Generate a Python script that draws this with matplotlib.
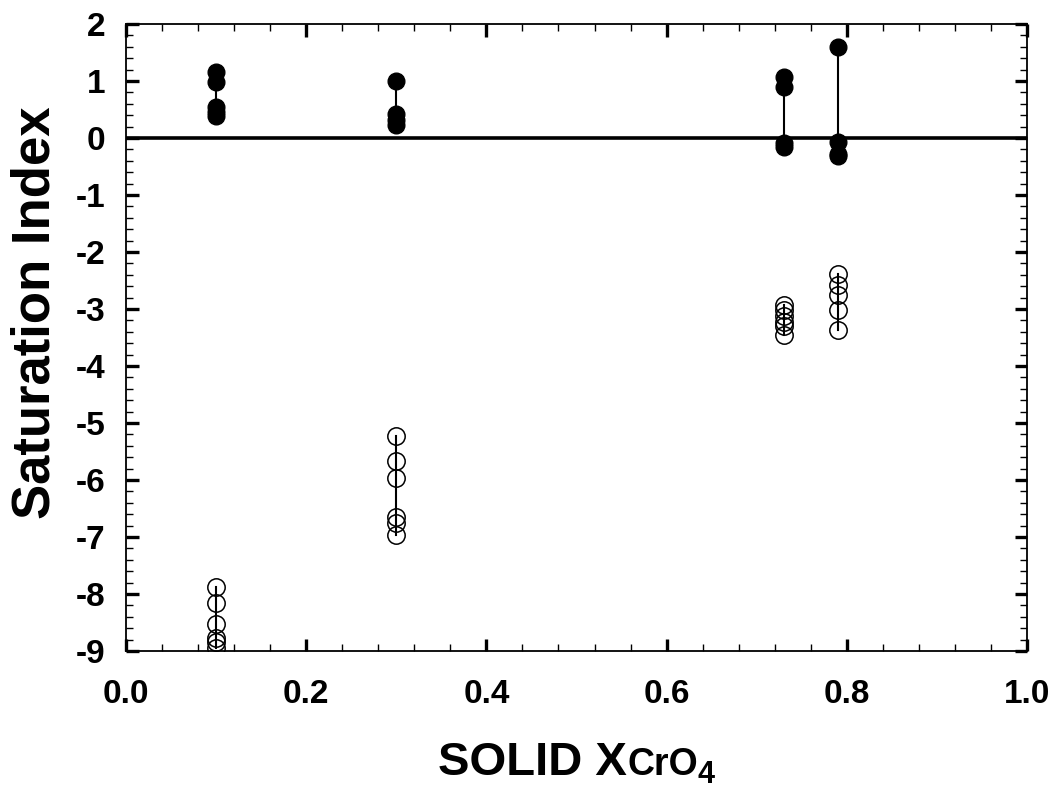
import matplotlib
matplotlib.use("Agg")
import matplotlib.pyplot as plt
from matplotlib.ticker import MultipleLocator
import numpy as np

plt.rcParams["font.family"] = ["Liberation Sans", "DejaVu Sans"]
plt.rcParams["font.weight"] = "bold"
plt.rcParams["axes.unicode_minus"] = False

# Mole fraction of chromate in the solid phase
x_solid = [0.1, 0.3, 0.73, 0.79]

# Saturation index of the solid solution (filled symbols)
si_filled = [
    [1.15, 0.98, 0.55, 0.45, 0.38],
    [1.00, 0.42, 0.32, 0.22],
    [1.07, 0.90, -0.08, -0.16],
    [1.60, -0.07, -0.28, -0.32],
]

# Saturation index of the pure end-member (open symbols)
si_open = [
    [-7.88, -8.15, -8.52, -8.78, -8.85, -8.95],
    [-5.22, -5.66, -5.96, -6.65, -6.76, -6.96],
    [-2.93, -3.02, -3.12, -3.22, -3.30, -3.45],
    [-2.38, -2.58, -2.75, -3.02, -3.36],
]

x_ticks = [0.0, 0.2, 0.4, 0.6, 0.8, 1.0]
y_ticks = [2, 1, 0, -1, -2, -3, -4, -5, -6, -7, -8, -9]

fig = plt.figure(figsize=(10.55, 7.90), dpi=100)
ax = fig.add_axes([0.1194, 0.176, 0.8541, 0.7936])

ax.axhline(0, color="black", lw=2.6, zorder=2)

for xv, vals in zip(x_solid, si_filled):
    ax.plot([xv, xv], [min(vals), max(vals)], color="black", lw=1.5, zorder=3)
    ax.plot([xv] * len(vals), vals, "o", ms=12, mfc="black", mec="black",
            mew=1.0, zorder=4)

for xv, vals in zip(x_solid, si_open):
    ax.plot([xv, xv], [min(vals), max(vals)], color="black", lw=1.5, zorder=3)
    ax.plot([xv] * len(vals), vals, "o", ms=12.5, mfc="none", mec="black",
            mew=1.1, zorder=4)

ax.set_xlim(0, 1.0)
ax.set_ylim(-9, 2)
ax.set_xticks(x_ticks)
ax.set_xticklabels([f"{v:.1f}" for v in x_ticks])
ax.set_yticks(y_ticks)
ax.set_yticklabels([str(v) for v in y_ticks])
ax.xaxis.set_minor_locator(MultipleLocator(0.04))
ax.yaxis.set_minor_locator(MultipleLocator(0.2))

ax.tick_params(which="both", direction="in", top=True, right=True)
ax.tick_params(which="major", length=9, width=2.4, labelsize=24)
ax.tick_params(which="minor", length=5, width=1.0)
ax.tick_params(axis="x", which="major", pad=20)
ax.tick_params(axis="y", which="major", pad=15)
for lab in ax.get_xticklabels() + ax.get_yticklabels():
    lab.set_fontweight("bold")
for sp in ax.spines.values():
    sp.set_linewidth(1.3)

ax.set_ylabel("Saturation Index", fontsize=38, fontweight="bold")
ax.yaxis.set_label_coords(-0.073, 0.54)

# x-axis title built from pieces of different sizes
fig.canvas.draw()
renderer = fig.canvas.get_renderer()
pieces = [("SOLID X", 34, 0.0), ("CrO", 27, 0.0), ("4", 22, -8.0)]
texts = []
for s, fs, dy in pieces:
    t = fig.text(0, 0, s, fontsize=fs, fontweight="bold", va="baseline",
                 ha="left")
    texts.append((t, dy))
widths = [t.get_window_extent(renderer).width for t, _ in texts]
total = sum(widths)
W, H = fig.bbox.width, fig.bbox.height
ax_bb = ax.get_window_extent(renderer)
x0 = (ax_bb.x0 + ax_bb.x1) / 2 - total / 2
base = 15.0
cur = x0
for (t, dy), w in zip(texts, widths):
    t.set_position((cur / W, (base + dy) / H))
    cur += w

fig.savefig("out.png", dpi=100)
